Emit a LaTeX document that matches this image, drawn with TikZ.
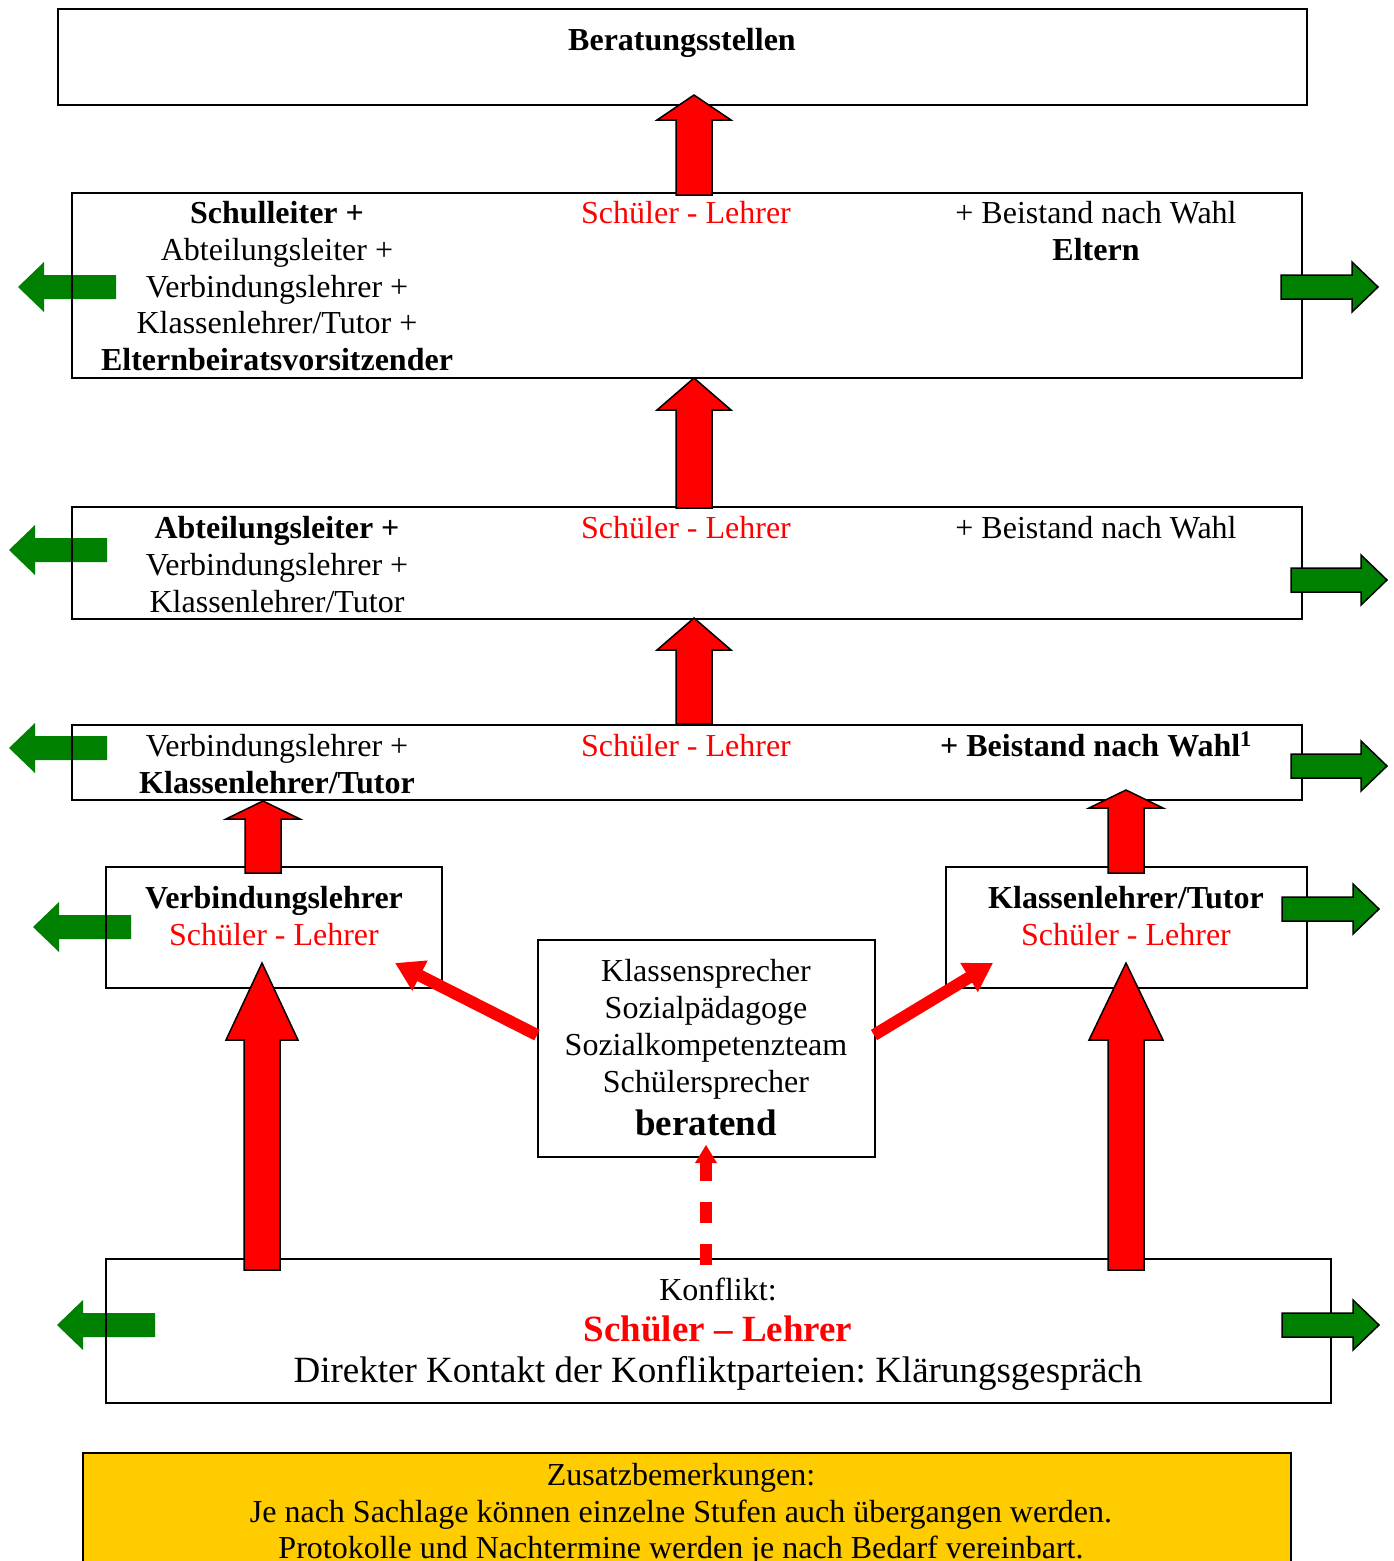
\documentclass[tikz,border=0pt]{standalone}
\usepackage{fontspec}
\setmainfont{Liberation Serif}
\frenchspacing
\usetikzlibrary{arrows.meta,fit}
\definecolor{grn}{HTML}{008000}
\definecolor{yel}{HTML}{FFCC00}
\tikzset{
  box/.style={draw=black, line width=2pt, inner sep=0pt},
  txt/.style={anchor=base, inner sep=0pt, font=\fontsize{32}{37}\selectfont},
  big/.style={anchor=base, inner sep=0pt, font=\fontsize{37}{42}\selectfont},
  redt/.style={text=red},
  garrow/.style={fill=grn, draw=none},
  garrowo/.style={fill=grn, draw=black, line width=1.5pt, line join=miter},
  rarrow/.style={fill=red, draw=black, line width=1.5pt, line join=miter},
  diag/.style={draw=red, line width=12pt, -{Triangle[length=28pt,width=32pt]}},
}
% left green arrow: tip x, right x, center y
\newcommand\gleft[3]{\fill[garrow] (#1,#3) -- ({#1+26},{#3-25}) -- ({#1+26},{#3-12}) -- (#2,{#3-12}) -- (#2,{#3+12}) -- ({#1+26},{#3+12}) -- ({#1+26},{#3+25}) -- cycle;}
% right green arrow: left x, tip x, center y
\newcommand\gright[3]{\filldraw[garrowo] (#1,{#3-12}) -- ({#2-26},{#3-12}) -- ({#2-26},{#3-25}) -- (#2,#3) -- ({#2-26},{#3+25}) -- ({#2-26},{#3+12}) -- (#1,{#3+12}) -- cycle;}
% red up arrow: center x, shaft half width, head half width, tip y, base y, bottom y
\newcommand\rup[6]{\filldraw[rarrow] ({#1-#2},#6) -- ({#1-#2},#5) -- ({#1-#3},#5) -- (#1,#4) -- ({#1+#3},#5) -- ({#1+#2},#5) -- ({#1+#2},#6) -- cycle;}
\newcommand\mkbox[5]{\path (#2,#3) coordinate (#1-a) (#4,#5) coordinate (#1-b); \node[box, fit=(#1-a)(#1-b)] (#1) {};}
\begin{document}
\begin{tikzpicture}[x=1pt,y=-1pt]
\useasboundingbox (0,0) rectangle (1394,1561);
\clip (0,0) rectangle (1394,1561);
% left green arrows (behind box borders)
\gleft{18}{116}{287}
\gleft{9}{107}{550}
\gleft{9}{107}{748}
\gleft{33}{131}{927}
\gleft{57}{155}{1325}
% boxes
\mkbox{b1}{58}{9}{1307}{105}
\mkbox{b2}{72}{193}{1302}{378}
\mkbox{b3}{72}{507}{1302}{619}
\mkbox{b4}{72}{725}{1302}{800}
\mkbox{bv}{106}{867}{442}{988}
\mkbox{bk}{946}{867}{1307}{988}
\mkbox{bm}{538}{940}{875}{1157}
\mkbox{bb}{106}{1259}{1331}{1403}
\path (83,1453) coordinate (by-a) (1291,1620) coordinate (by-b);
\node[box, fill=yel, fit=(by-a)(by-b)] (by) {};
% right green arrows (on top)
\gright{1281}{1378}{287}
\gright{1291}{1387}{580}
\gright{1291}{1387}{766}
\gright{1282}{1379}{909}
\gright{1282}{1379}{1325}
% red block arrows
\rup{694}{18}{37}{95}{120}{195}
\rup{694}{18}{37}{378}{410}{508}
\rup{694}{18}{37}{618}{650}{724}
\rup{263}{18}{37}{801}{819}{873}
\rup{1126}{18}{37}{790}{808}{873}
\rup{262}{18}{36}{963}{1040}{1270}
\rup{1126}{18}{37}{963}{1040}{1270}
% diagonal arrows
\coordinate (dl0) at (537,1035);
\coordinate (dl1) at (395,963);
\coordinate (dr0) at (874,1035);
\coordinate (dr1) at (993,963);
\draw[diag] (dl0) -- (dl1);
\draw[diag] (dr0) -- (dr1);
% dashed arrow
\coordinate (ds0) at (706,1265);
\coordinate (ds1) at (706,1163);
\draw[red, line width=12pt, dash pattern=on 21pt off 21pt] (ds0) -- (ds1);
\fill[red] (695,1163) -- (717,1163) -- (706,1145) -- cycle;
% texts
\node[txt, font=\fontsize{32}{37}\selectfont\bfseries] (t1) at (682,50) {Beratungsstellen};
% box 2
\node[txt, font=\fontsize{32}{37}\selectfont\bfseries] (t2a) at (277,223) {Schulleiter +};
\node[txt] (t2b) at (277,260) {Abteilungsleiter +};
\node[txt] (t2c) at (277,297) {Verbindungslehrer +};
\node[txt] (t2d) at (277,333) {Klassenlehrer/Tutor +};
\node[txt, font=\fontsize{32}{37}\selectfont\bfseries] (t2e) at (277,370) {Elternbeiratsvorsitzender};
\node[txt, redt] (t2m) at (686,223) {Schüler - Lehrer};
\node[txt] (t2r) at (1096,223) {+ Beistand nach Wahl};
\node[txt, font=\fontsize{32}{37}\selectfont\bfseries] (t2s) at (1096,260) {Eltern};
% box 3
\node[txt, font=\fontsize{32}{37}\selectfont\bfseries] (t3a) at (277,538) {Abteilungsleiter +};
\node[txt] (t3b) at (277,575) {Verbindungslehrer +};
\node[txt] (t3c) at (277,612) {Klassenlehrer/Tutor};
\node[txt, redt] (t3m) at (686,538) {Schüler - Lehrer};
\node[txt] (t3r) at (1096,538) {+ Beistand nach Wahl};
% box 4
\node[txt] (t4a) at (277,756) {Verbindungslehrer +};
\node[txt, font=\fontsize{32}{37}\selectfont\bfseries] (t4b) at (277,793) {Klassenlehrer/Tutor};
\node[txt, redt] (t4m) at (686,756) {Schüler - Lehrer};
\node[txt, font=\fontsize{32}{37}\selectfont\bfseries] (t4r) at (1096,756) {+ Beistand nach Wahl\textsuperscript{1}};
% small boxes
\node[txt, font=\fontsize{32}{37}\selectfont\bfseries] (tva) at (274,908) {Verbindungslehrer};
\node[txt, redt] (tvb) at (274,945) {Schüler - Lehrer};
\node[txt, font=\fontsize{32}{37}\selectfont\bfseries] (tka) at (1126,908) {Klassenlehrer/Tutor};
\node[txt, redt] (tkb) at (1126,945) {Schüler - Lehrer};
% middle box
\node[txt] (tm1) at (706,981) {Klassensprecher};
\node[txt] (tm2) at (706,1018) {Sozialpädagoge};
\node[txt] (tm3) at (706,1055) {Sozialkompetenzteam};
\node[txt] (tm4) at (706,1092) {Schülersprecher};
\node[big, font=\fontsize{37}{42}\selectfont\bfseries] (tm5) at (706,1135) {beratend};
% bottom box
\node[txt] (tb1) at (718,1300) {Konflikt:};
\node[big, redt, font=\fontsize{37}{42}\selectfont\bfseries] (tb2) at (718,1341) {Schüler – Lehrer};
\node[big] (tb3) at (718,1382) {Direkter Kontakt der Konfliktparteien: Klärungsgespräch};
% yellow box
\node[txt] (ty1) at (681,1485) {Zusatzbemerkungen:};
\node[txt] (ty2) at (681,1522) {Je nach Sachlage können einzelne Stufen auch übergangen werden.};
\node[txt] (ty3) at (681,1558) {Protokolle und Nachtermine werden je nach Bedarf vereinbart.};
\end{tikzpicture}
\end{document}
